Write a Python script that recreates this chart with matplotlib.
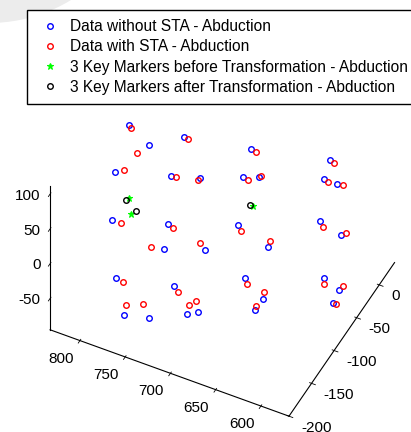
import numpy as np
import matplotlib
matplotlib.use('Agg')
import matplotlib.pyplot as plt
from matplotlib.patches import Circle

plt.rcParams['font.family'] = ['Liberation Sans', 'DejaVu Sans']
plt.rcParams['axes.unicode_minus'] = False

# marker coordinates, abduction trial
x_no_sta = [805.2, 775.2, 789.1, 749.5, 736.9, 710.1, 682.5, 672.5, 658.2, 605.6, 599.4, 585.0,
            796.7, 744.3, 682.2, 611.5, 741.6, 703.9, 650.4, 592.8,
            791.6, 735.1, 677.2, 648.0, 607.0, 586.1, 772.8, 748.0, 717.4, 708.6, 659.3, 595.1]
y_no_sta = [-80.3, -97.0, -143.8, -70.7, -124.2, -113.6, -56.4, -93.6, -87.4, -34.8, -60.6, -60.5,
            -135.9, -116.2, -86.6, -45.8, -131.7, -115.1, -83.7, -36.7,
            -137.4, -121.2, -79.8, -98.4, -45.2, -53.9, -157.9, -150.9, -128.6, -121.7, -93.5, -50.5]
z_no_sta = [100, 100, 100, 100, 100, 100, 100, 100, 100, 100, 100, 100,
            20, 20, 20, 20, 0, 0, 0, 0,
            -60, -60, -60, -60, -60, -60, -85, -85, -85, -85, -85, -85]

x_sta = [801.5, 781.5, 782.7, 744.7, 732.2, 710.9, 676.7, 666.2, 657.2, 600.5, 594.8, 579.4,
         786.5, 737.5, 675.9, 604.9, 754.2, 713.0, 652.0, 590.1,
         782.1, 728.3, 671.6, 651.7, 603.2, 585.1, 776.6, 762.3, 721.3, 717.0, 661.2, 591.2]
y_sta = [-84.1, -111.6, -138.1, -72.2, -123.9, -117.9, -57.6, -95.9, -84.5, -37.3, -62.3, -59.9,
         -135.9, -119.3, -92.7, -51.6, -135.3, -108.5, -75.4, -31.7,
         -139.4, -126.6, -87.2, -88.8, -52.8, -46.9, -145.2, -135.5, -116.9, -109.4, -88.1, -50.2]
z_sta = z_no_sta

x_key_before = [786.1, 775.0, 671.0]
y_key_before = [-118.8, -137.3, -74.4]
z_key_before = [40, 40, 40]

x_key_after = [787.8, 772.4, 674.3]
y_key_after = [-122.7, -131.4, -74.4]
z_key_after = [40, 40, 40]

xlim = (833, 569)
ylim = (-200, 34)
zlim = (-95, 111)

fig = plt.figure(figsize=(4.11, 4.32), dpi=100)

# faint grey blob in the top-left corner
fig.add_artist(Circle((-0.11, 5.67), 1.58, transform=fig.dpi_scale_trans,
                      facecolor='#ececec', edgecolor='none', zorder=-1))

ax = fig.add_axes([0.0399, 0.0037, 0.9757, 0.9282], projection='3d')
ax.patch.set_alpha(0)
ax.set_proj_type('ortho')
ax.view_init(elev=46.5, azim=-63.5)

ax.plot(x_no_sta, y_no_sta, z_no_sta, 'o', color='b', mfc='none', ms=4, mew=1.0,
        label='Data without STA - Abduction')
ax.plot(x_sta, y_sta, z_sta, 'o', color='r', mfc='none', ms=4, mew=1.0,
        label='Data with STA - Abduction')
ax.plot(x_key_before, y_key_before, z_key_before, '*', color=(0, 1, 0), ms=5, mew=0.8,
        label='3 Key Markers before Transformation - Abduction')
ax.plot(x_key_after, y_key_after, z_key_after, 'o', color='k', mfc='none', ms=4, mew=1.0,
        label='3 Key Markers after Transformation - Abduction')

ax.set_xlim(*xlim)
ax.set_ylim(*ylim)
ax.set_zlim(*zlim)
ax.set_box_aspect((abs(xlim[1] - xlim[0]), ylim[1] - ylim[0], zlim[1] - zlim[0]))

ax.set_xticks([600, 650, 700, 750, 800])
ax.set_yticks([-200, -150, -100, -50, 0])
ax.set_zticks([-50, 0, 50, 100])
ax.zaxis.set_ticks_position('lower')
ax.grid(False)
for axis in (ax.xaxis, ax.yaxis, ax.zaxis):
    axis.set_pane_color((1, 1, 1, 0))
    axis.pane.set_edgecolor('none')
    axis.line.set_color('k')
    axis.line.set_linewidth(0.8)
    axis._axinfo['tick']['color'] = 'k'
    axis._axinfo['tick']['linewidth'] = {True: 0.6, False: 0.5}
ax.tick_params(labelsize=11, colors='k')
ax.tick_params(axis='x', pad=1.2)
ax.tick_params(axis='y', pad=-0.5)
ax.tick_params(axis='z', pad=-3.9)
plt.setp(ax.get_xticklabels(), ha='right', va='center')
plt.setp(ax.get_yticklabels(), ha='left', va='center')
plt.setp(ax.get_zticklabels(), ha='right', va='center')

fig.legend(loc='upper left', bbox_to_anchor=(27 / 411, 1 - 10 / 432), borderaxespad=0,
           fontsize=11.2, fancybox=False, framealpha=1, edgecolor='k',
           handlelength=1.76, handletextpad=0.405, borderpad=0.6, labelspacing=0.33)

fig.savefig('out.png', dpi=100)
